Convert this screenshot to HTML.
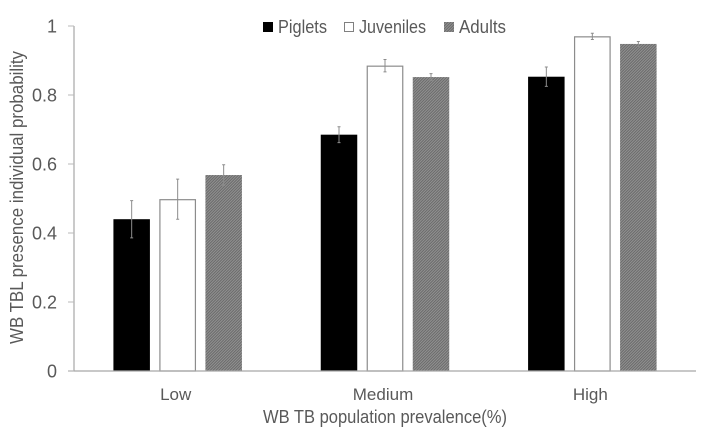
<!DOCTYPE html>
<html>
<head>
<meta charset="utf-8">
<title>WB TBL presence chart</title>
<style>
html,body{margin:0;padding:0;background:#fff;width:703px;height:440px;overflow:hidden}
svg{display:block}
text{font-family:"Liberation Sans",sans-serif;fill:#595959}
</style>
</head>
<body>
<svg id="chart" width="703" height="440" viewBox="0 0 703 440" xmlns="http://www.w3.org/2000/svg">
<defs>
<pattern id="hatch" width="2" height="2" patternUnits="userSpaceOnUse" patternTransform="rotate(45)">
<rect width="2" height="2" fill="#929292"/>
<rect width="1" height="2" fill="#6a6a6a"/>
</pattern>
</defs>
<g id="marks"></g>
<text x="263" y="423" font-size="18" textLength="244" lengthAdjust="spacingAndGlyphs">WB TB population prevalence(%)</text>
<text transform="translate(23,344) rotate(-90)" x="0" y="0" font-size="18" textLength="293" lengthAdjust="spacingAndGlyphs">WB TBL presence individual probability</text>
<g>
<rect x="263" y="22" width="10" height="10" fill="#000"/>
<text x="278" y="33" font-size="18" textLength="49" lengthAdjust="spacingAndGlyphs">Piglets</text>
<rect x="344.5" y="22.5" width="9" height="9" fill="#fff" stroke="#808080" stroke-width="1"/>
<text x="359" y="33" font-size="18" textLength="67" lengthAdjust="spacingAndGlyphs">Juveniles</text>
<rect x="444" y="22" width="10" height="10" fill="url(#hatch)"/>
<text x="459" y="33" font-size="18" textLength="47" lengthAdjust="spacingAndGlyphs">Adults</text>
</g>
</svg>
<script>
const categories = ['Low', 'Medium', 'High'];
const seriesNames = ['Piglets', 'Juveniles', 'Adults'];
const piglets = [0.44, 0.685, 0.853];
const juveniles = [0.498, 0.885, 0.97];
const adults = [0.568, 0.852, 0.948];
const pigletsErr = [0.054, 0.023, 0.028];
const juvenilesErr = [0.058, 0.018, 0.009];
const adultsErr = [0.03, 0.01, 0.007];
const yTicks = [0, 0.2, 0.4, 0.6, 0.8, 1];

const NS = 'http://www.w3.org/2000/svg';
const root = document.getElementById('marks');
const plot = { left: 74, right: 696, top: 26, bottom: 371 };
const barW = 36.5, pitch = 46;
const yScale = v => plot.bottom - v * (plot.bottom - plot.top);
const xCenter = i => plot.left + (i + 0.5) * (plot.right - plot.left) / categories.length;
const xBar = (i, s) => xCenter(i) + (s - 1) * pitch - barW / 2;

function make(tag, attrs) {
  const el = document.createElementNS(NS, tag);
  for (const k in attrs) el.setAttribute(k, attrs[k]);
  root.appendChild(el);
  return el;
}

const values = [piglets, juveniles, adults];
const errors = [pigletsErr, juvenilesErr, adultsErr];
const fills = ['#000', '#fff', 'url(#hatch)'];

values.forEach((vals, s) => {
  vals.forEach((v, i) => {
    const isOutlined = s === 1;
    const inset = isOutlined ? 0.5 : 0;
    const bar = make('rect', {
      x: xBar(i, s) + inset,
      y: yScale(v) + inset,
      width: barW - 2 * inset,
      height: plot.bottom - yScale(v) - inset,
      fill: fills[s],
      stroke: isOutlined ? '#8c8c8c' : 'none',
      'stroke-width': isOutlined ? 1.2 : 0
    });
    
    
  });
});

values.forEach((vals, s) => {
  vals.forEach((v, i) => {
    const cx = xBar(i, s) + barW / 2;
    const hi = yScale(v + errors[s][i]);
    const lo = yScale(v - errors[s][i]);
    const eb = make('path', {
      d: 'M' + cx + ' ' + hi + 'V' + lo + 'M' + (cx - 1.5) + ' ' + hi + 'H' + (cx + 1.5) + 'M' + (cx - 1.5) + ' ' + lo + 'H' + (cx + 1.5),
      stroke: '#8c8c8c',
      'stroke-width': 1,
      fill: 'none'
    });
    
    
  });
});

const yAxis = make('line', { x1: plot.left, x2: plot.left, y1: plot.top, y2: plot.bottom, stroke: '#a6a6a6', 'stroke-width': 1.2 });



const xAxis = make('line', { x1: 68, x2: plot.right, y1: plot.bottom, y2: plot.bottom, stroke: '#a6a6a6', 'stroke-width': 1.2 });



yTicks.forEach(t => {
  const y = yScale(t);
  const tick = make('line', { x1: 68, x2: plot.left, y1: y, y2: y, stroke: '#b8b8b8', 'stroke-width': 1 });
  
  
  const label = make('text', { x: 57, y: y + 6.5, 'font-size': 18, 'text-anchor': 'end' });
  label.textContent = String(t);
  
  
});

categories.forEach((c, i) => {
  const label = make('text', { x: xCenter(i) - 2, y: 400, 'font-size': 17, 'text-anchor': 'middle' });
  label.textContent = c;
  
  
});
</script>
</body>
</html>
